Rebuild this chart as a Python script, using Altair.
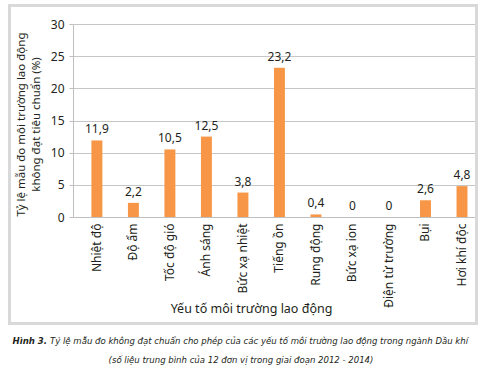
import altair as alt
import pandas as pd

categories = ["Nhiệt độ", "Độ ẩm", "Tốc độ gió", "Ánh sáng", "Bức xạ nhiệt",
              "Tiếng ồn", "Rung động", "Bức xạ ion", "Điện từ trường", "Bụi", "Hơi khí độc"]
values = [11.9, 2.2, 10.5, 12.5, 3.8, 23.2, 0.4, 0, 0, 2.6, 4.8]
y_ticks = [0, 5, 10, 15, 20, 25, 30]

y_title = ["Tỷ lệ mẫu đo môi trường lao động", "không đạt tiêu chuẩn (%)"]
x_title = "Yếu tố môi trường lao động"
caption_bold = "Hình 3."
caption_line1 = "Tỷ lệ mẫu đo không đạt chuẩn cho phép của các yếu tố môi trường lao động trong ngành Dầu khí"
caption_line2 = "(số liệu trung bình của 12 đơn vị trong giai đoạn 2012 - 2014)"

FONT = "Noto Sans"
CAP_FONT = "DejaVu Sans Condensed"
TXT = "#231f20"

df = pd.DataFrame({
    "cat": categories,
    "val": values,
    "lbl": [("%g" % v).replace(".", ",") for v in values],
})

W, H = 402, 193

xscale = alt.Scale(paddingInner=0.7, paddingOuter=0.355, align=0.71)
yscale = alt.Scale(domain=[0, 30], nice=False)

xenc = alt.X("cat:N", sort=categories, scale=xscale,
             axis=alt.Axis(title=x_title, labelAngle=-90, labelAlign="right",
                           labelBaseline="middle", labelPadding=6, ticks=False,
                           domainColor="#bfbfbf", labelFont=FONT, labelFontSize=12,
                           labelColor=TXT, titleFont=FONT, titleFontSize=12.5,
                           titleFontWeight="normal", titleColor=TXT,
                           titleX=178, titleY=91, titleAnchor="start",
                           titleAlign="center", titleBaseline="middle"))
yenc = alt.Y("val:Q", scale=yscale,
             axis=alt.Axis(title=y_title, values=y_ticks, tickSize=4,
                           tickColor="#bfbfbf", domainColor="#bfbfbf",
                           grid=True, gridColor="#c6c6c6", labelFont=FONT,
                           labelFontSize=12, labelColor=TXT, labelPadding=5,
                           labelOverlap=False,
                           titleFont=FONT, titleFontSize=11.5, titleFontWeight="normal",
                           titleColor=TXT, titleAngle=-90, titleX=-58, titleY=100,
                           titleBaseline="top", titleAlign="center",
                           titleLineHeight=15))

base = alt.Chart(df)
bars = base.mark_bar(color="#f79646").encode(x=xenc, y=yenc)
labels = base.mark_text(font=FONT, fontSize=12, color=TXT, dy=-11).encode(
    x=xenc, y=yenc, text="lbl:N")

one = pd.DataFrame({"a": [0]})
frame = alt.Chart(one).mark_rect(fill=None, stroke="#d9d9d9", strokeWidth=3).encode(
    x=alt.value(-63.5), x2=alt.value(403.5), y=alt.value(-18.5), y2=alt.value(299.5))

CAP_SIZE = 9.5
cap_b = alt.Chart(pd.DataFrame({"t": [caption_bold]})).mark_text(
    font=CAP_FONT, fontSize=CAP_SIZE, fontWeight="bold", fontStyle="italic",
    color=TXT, align="right", baseline="alphabetic").encode(
    text="t:N", x=alt.value(-26), y=alt.value(320))
cap_1 = alt.Chart(pd.DataFrame({"t": [caption_line1]})).mark_text(
    font=CAP_FONT, fontSize=CAP_SIZE, fontStyle="italic",
    color=TXT, align="left", baseline="alphabetic").encode(
    text="t:N", x=alt.value(-23), y=alt.value(320))
cap_2 = alt.Chart(pd.DataFrame({"t": [caption_line2]})).mark_text(
    font=CAP_FONT, fontSize=CAP_SIZE, fontStyle="italic",
    color=TXT, align="center", baseline="alphabetic").encode(
    text="t:N", x=alt.value(168), y=alt.value(339))

chart = alt.layer(bars, labels, frame, cap_b, cap_1, cap_2).properties(
    width=W, height=H,
    autosize=alt.AutoSizeParams(type="none"),
    padding={"left": 73, "top": 24, "right": 7, "bottom": 159},
    background="white",
).configure_view(stroke=None)

chart.save("out.html", embed_options={"renderer": "svg", "actions": False})
